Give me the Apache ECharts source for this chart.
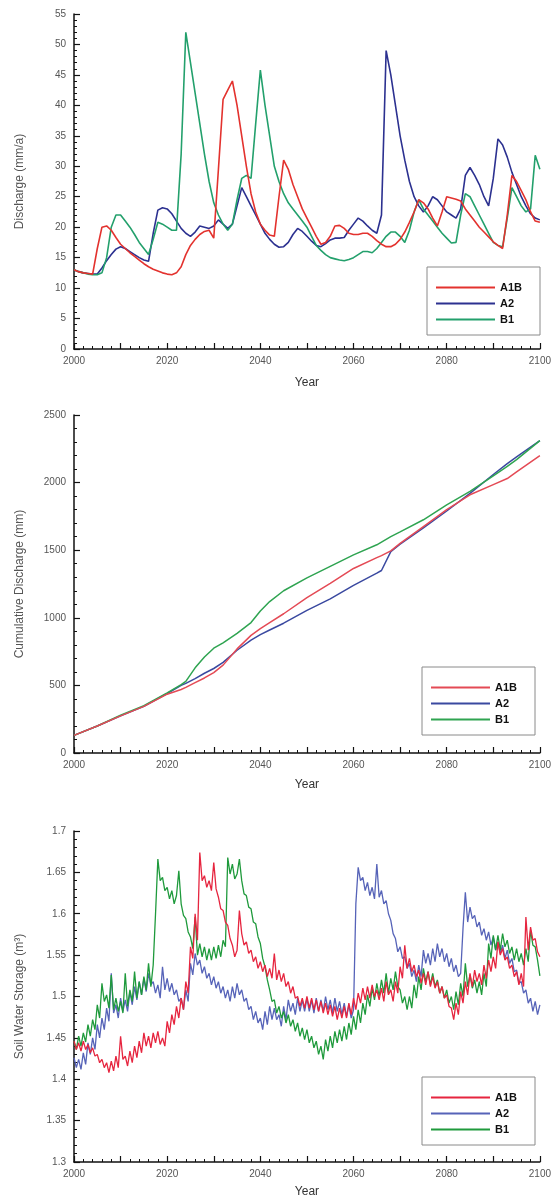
<!DOCTYPE html>
<html><head><meta charset="utf-8">
<script src="https://cdn.jsdelivr.net/npm/echarts@6/dist/echarts.min.js"></script>
<style>html,body{margin:0;padding:0;background:#fff}#c{width:554px;height:1201px}</style>
</head><body><div id="c"></div>
<script>
// ---------- Panel 1: annual discharge (mm/a), 2000..2100 ----------
const years1 = Array.from({length:101}, (_, i) => 2000 + i);
const disA1B = [
13.0,12.7,12.5,12.4,12.3,16.5,20.0,20.2,19.5,18.3,
17.2,16.5,15.8,15.2,14.6,14.0,13.5,13.1,12.8,12.5,
12.3,12.2,12.5,13.5,15.5,17.0,18.0,18.8,19.3,19.5,
18.2,29.5,41.0,42.5,44.0,40.0,35.0,30.0,25.5,22.5,
20.5,19.5,18.7,18.5,25.0,31.0,29.5,27.0,25.0,23.0,
21.5,20.0,18.5,17.2,17.5,18.5,20.2,20.3,19.8,19.0,
18.8,18.8,19.0,19.0,18.5,17.8,17.2,16.8,16.8,17.2,
18.0,19.2,20.8,22.5,24.5,24.0,23.0,21.5,20.2,22.5,
25.0,24.8,24.6,24.3,23.0,22.0,21.0,20.0,19.2,18.4,
17.6,17.0,16.5,22.0,28.5,27.5,26.0,24.5,22.5,21.0,
20.8];
const disA2 = [
13.0,12.7,12.5,12.4,12.3,12.3,13.3,14.5,15.5,16.4,
16.8,16.5,16.0,15.5,15.0,14.6,14.4,19.0,22.8,23.2,
23.0,22.2,21.0,19.8,19.0,18.5,19.2,20.2,20.0,19.8,
20.2,21.2,20.5,19.8,20.5,23.5,26.5,25.0,23.5,22.0,
20.5,19.0,18.0,17.2,16.7,16.8,17.5,18.8,19.8,19.3,
18.5,17.7,17.0,16.8,17.3,17.9,18.2,18.2,18.3,19.5,
20.5,21.5,21.0,20.2,19.5,19.0,22.0,49.0,45.0,40.0,
35.0,31.0,27.5,25.0,23.5,22.5,23.5,25.0,24.5,23.5,
22.5,22.0,21.5,23.0,28.5,29.8,28.5,27.0,25.0,23.5,
28.0,34.5,33.5,31.5,29.0,27.0,25.0,23.5,22.2,21.5,
21.2];
const disB1 = [
13.0,12.7,12.5,12.3,12.2,12.2,12.5,15.0,20.0,22.0,
22.0,21.0,20.0,18.8,17.5,16.5,15.5,18.0,20.8,20.5,
20.0,19.5,19.5,32.0,52.0,47.0,42.0,37.0,32.0,27.5,
24.0,22.0,20.5,19.5,20.5,24.5,28.0,28.5,28.0,37.0,
45.8,40.0,35.0,30.0,27.5,25.5,24.0,23.0,22.0,21.0,
20.0,18.5,17.0,16.2,15.5,15.0,14.8,14.6,14.5,14.7,
15.0,15.5,16.0,16.0,15.8,16.5,17.5,18.5,19.2,19.2,
18.5,17.5,19.5,22.5,24.5,23.0,22.0,21.0,20.0,19.0,
18.2,17.4,17.5,22.0,25.5,25.0,23.5,22.0,20.5,19.0,
17.5,17.0,16.8,21.5,26.5,25.0,23.5,22.5,23.0,31.8,
29.5];

// ---------- Panel 2: cumulative discharge (mm) ----------
const cumYears = [2000,2005,2010,2015,2020,2023,2024,2026,2028,2030,2032,2035,2038,2040,2042,2045,2050,2055,2060,2065,2066,2068,2070,2075,2080,2085,2090,2093,2095,2100];
const cumA1B = [130,200,275,345,435,470,485,520,555,595,650,770,870,920,965,1030,1150,1255,1365,1445,1460,1495,1550,1675,1800,1910,1985,2030,2080,2200];
const cumA2  = [130,200,275,345,440,500,515,550,590,625,670,760,835,875,910,960,1055,1140,1240,1330,1350,1490,1545,1665,1790,1920,2060,2140,2190,2310];
const cumB1  = [130,200,280,350,445,505,530,630,710,775,815,885,965,1050,1120,1200,1295,1380,1465,1540,1560,1600,1635,1725,1835,1935,2050,2120,2170,2310];

// ---------- Panel 3: soil water storage (m³), half-yearly 2000..2100 ----------
const years3 = Array.from({length:201}, (_, i) => 2000 + i * 0.5);
const swsA1B = [
1.446,1.436,1.444,1.434,1.446,1.436,1.442,1.432,1.438,1.428,1.430,1.420,1.424,1.414,1.420,1.408,1.422,1.410,1.428,1.414,
1.452,1.424,1.428,1.416,1.434,1.420,1.440,1.426,1.446,1.432,1.456,1.440,1.452,1.438,1.456,1.444,1.458,1.442,1.450,1.440,
1.470,1.456,1.478,1.466,1.488,1.474,1.498,1.484,1.518,1.504,1.560,1.546,1.600,1.568,1.674,1.640,1.646,1.632,1.640,1.628,
1.662,1.630,1.620,1.606,1.604,1.590,1.586,1.570,1.562,1.548,1.556,1.604,1.576,1.562,1.566,1.552,1.556,1.542,1.548,1.534,
1.542,1.530,1.538,1.524,1.534,1.522,1.552,1.520,1.532,1.518,1.528,1.512,1.518,1.504,1.512,1.498,1.500,1.488,1.498,1.486,
1.500,1.486,1.498,1.484,1.496,1.482,1.494,1.480,1.492,1.478,1.490,1.476,1.488,1.472,1.486,1.474,1.488,1.474,1.492,1.478,
1.498,1.484,1.504,1.492,1.510,1.496,1.512,1.498,1.514,1.500,1.508,1.496,1.510,1.494,1.518,1.502,1.508,1.494,1.518,1.504,
1.536,1.522,1.562,1.534,1.546,1.530,1.538,1.524,1.532,1.516,1.528,1.514,1.530,1.512,1.524,1.510,1.518,1.504,1.512,1.498,
1.502,1.488,1.486,1.472,1.492,1.478,1.506,1.492,1.518,1.502,1.528,1.512,1.532,1.518,1.528,1.514,1.538,1.522,1.544,1.530,
1.548,1.534,1.566,1.550,1.558,1.544,1.548,1.534,1.538,1.524,1.530,1.514,1.528,1.512,1.596,1.556,1.584,1.568,1.570,1.554,
1.548];
const swsA2 = [
1.426,1.414,1.424,1.412,1.432,1.418,1.444,1.430,1.450,1.436,1.466,1.450,1.474,1.460,1.486,1.470,1.528,1.480,1.490,1.474,
1.498,1.482,1.496,1.482,1.506,1.490,1.512,1.496,1.518,1.502,1.522,1.506,1.528,1.514,1.518,1.504,1.514,1.498,1.536,1.508,
1.522,1.506,1.516,1.502,1.508,1.494,1.498,1.484,1.508,1.494,1.540,1.526,1.552,1.538,1.544,1.528,1.536,1.522,1.528,1.514,
1.524,1.510,1.518,1.504,1.512,1.498,1.508,1.494,1.512,1.498,1.516,1.502,1.508,1.494,1.498,1.484,1.488,1.472,1.482,1.468,
1.474,1.460,1.482,1.466,1.488,1.472,1.486,1.472,1.478,1.464,1.488,1.472,1.496,1.482,1.492,1.478,1.498,1.482,1.496,1.482,
1.498,1.482,1.496,1.480,1.498,1.482,1.496,1.482,1.500,1.484,1.496,1.480,1.498,1.482,1.494,1.478,1.492,1.476,1.490,1.474,
1.484,1.612,1.656,1.640,1.644,1.628,1.638,1.622,1.632,1.618,1.660,1.620,1.628,1.612,1.616,1.600,1.592,1.576,1.570,1.554,
1.560,1.546,1.548,1.534,1.540,1.524,1.532,1.518,1.538,1.524,1.556,1.540,1.552,1.538,1.558,1.542,1.564,1.548,1.558,1.542,
1.552,1.536,1.546,1.530,1.538,1.524,1.528,1.582,1.626,1.590,1.608,1.594,1.598,1.584,1.590,1.574,1.582,1.568,1.578,1.562,
1.572,1.556,1.566,1.552,1.562,1.546,1.556,1.540,1.546,1.530,1.532,1.516,1.518,1.504,1.508,1.492,1.498,1.482,1.494,1.478,
1.490];
const swsB1 = [
1.446,1.436,1.452,1.440,1.456,1.445,1.466,1.452,1.472,1.460,1.490,1.474,1.516,1.494,1.502,1.486,1.526,1.484,1.498,1.482,
1.494,1.480,1.528,1.488,1.508,1.494,1.530,1.498,1.518,1.502,1.524,1.508,1.540,1.512,1.538,1.600,1.666,1.640,1.644,1.628,
1.632,1.618,1.628,1.612,1.622,1.652,1.612,1.598,1.594,1.578,1.572,1.558,1.596,1.550,1.564,1.548,1.560,1.544,1.558,1.544,
1.560,1.546,1.562,1.548,1.568,1.560,1.668,1.648,1.660,1.642,1.648,1.666,1.640,1.624,1.622,1.608,1.606,1.590,1.588,1.572,
1.564,1.546,1.536,1.520,1.508,1.494,1.496,1.480,1.488,1.474,1.482,1.468,1.478,1.464,1.472,1.458,1.468,1.452,1.462,1.448,
1.460,1.444,1.452,1.438,1.446,1.430,1.440,1.424,1.448,1.434,1.452,1.438,1.458,1.444,1.460,1.446,1.464,1.448,1.468,1.454,
1.476,1.460,1.484,1.468,1.492,1.478,1.502,1.488,1.510,1.496,1.516,1.500,1.520,1.504,1.528,1.504,1.522,1.508,1.530,1.512,
1.508,1.492,1.500,1.484,1.500,1.486,1.514,1.498,1.524,1.508,1.534,1.518,1.530,1.514,1.528,1.512,1.520,1.504,1.512,1.498,
1.508,1.492,1.500,1.484,1.506,1.490,1.516,1.500,1.540,1.512,1.526,1.510,1.520,1.504,1.518,1.502,1.528,1.512,1.564,1.546,
1.574,1.556,1.574,1.556,1.576,1.560,1.568,1.552,1.560,1.544,1.558,1.542,1.552,1.538,1.558,1.542,1.580,1.562,1.560,1.544,
1.525];

const seriesNames = ['A1B', 'A2', 'B1'];
const xTickLabels = [2000, 2020, 2040, 2060, 2080, 2100];

// ---------- styles ----------
const panelColors = [
  ['#e3322e', '#2c3190', '#23a06c'],
  ['#e44a55', '#3a49a0', '#2fa451'],
  ['#e6253f', '#5663b8', '#1f9a3c']
];
const lineWidths = [1.6, 1.5, 1.3];
const FONT = '"Liberation Sans", Arial, sans-serif';

function pairs(xs, ys) { return xs.map((x, i) => [x, ys[i]]); }

const grids = [
  {left: 74, right: 12, top: 14, height: 335},
  {left: 74, right: 12, top: 415, height: 338},
  {left: 74, right: 12, top: 831, height: 331}
];
const yDefs = [
  {min: 0, max: 55, interval: 5, name: 'Discharge (mm/a)'},
  {min: 0, max: 2500, interval: 500, name: 'Cumulative Discharge (mm)'},
  {min: 1.3, max: 1.7, interval: 0.05, name: 'Soil Water Storage (m³)'}
];
const yearGaps = [28, 26, 24];
const legendPos = [
  {left: 427, top: 267},
  {left: 422, top: 667},
  {left: 422, top: 1077}
];

const axisLine = {show: true, onZero: false, lineStyle: {color: '#111', width: 1.5}};

const xAxis = grids.map((g, k) => ({
  type: 'value', gridIndex: k, min: 2000, max: 2100, interval: 10,
  name: 'Year', nameLocation: 'middle', nameGap: yearGaps[k],
  nameTextStyle: {color: '#333', fontSize: 12, fontFamily: FONT},
  axisLine: axisLine,
  axisTick: {show: true, inside: true, length: 6, lineStyle: {color: '#111', width: 1.2}},
  minorTick: {show: true, splitNumber: 5, length: 3, lineStyle: {color: '#111', width: 1}},
  splitLine: {show: false},
  axisLabel: {color: '#555', fontSize: 10, fontFamily: FONT, margin: 7,
    formatter: v => (xTickLabels.indexOf(v) >= 0 ? String(v) : '')}
}));

const yAxis = yDefs.map((d, k) => ({
  type: 'value', gridIndex: k, min: d.min, max: d.max, interval: d.interval,
  name: d.name, nameLocation: 'middle', nameGap: 48,
  nameTextStyle: {color: '#555', fontSize: 12, fontFamily: FONT},
  axisLine: axisLine,
  axisTick: {show: true, inside: true, length: 6, lineStyle: {color: '#111', width: 1.2}},
  minorTick: {show: true, splitNumber: 5, length: 3, lineStyle: {color: '#111', width: 1}},
  splitLine: {show: false},
  axisLabel: {color: '#555', fontSize: 10, fontFamily: FONT, margin: 8,
    formatter: v => String(parseFloat(v.toFixed(2)))}
}));

const panelData = [
  [pairs(years1, disA1B), pairs(years1, disA2), pairs(years1, disB1)],
  [pairs(cumYears, cumA1B), pairs(cumYears, cumA2), pairs(cumYears, cumB1)],
  [pairs(years3, swsA1B), pairs(years3, swsA2), pairs(years3, swsB1)]
];

const series = [];
panelData.forEach((arr, k) => {
  arr.forEach((d, j) => {
    series.push({
      type: 'line', name: seriesNames[j], xAxisIndex: k, yAxisIndex: k,
      data: d, showSymbol: false, symbol: 'none',
      lineStyle: {color: panelColors[k][j], width: lineWidths[k]},
      itemStyle: {color: panelColors[k][j]},
      z: j === 0 ? 3 : 2
    });
  });
});

const legend = legendPos.map((p, k) => ({
  orient: 'vertical', left: p.left, top: p.top,
  selectedMode: false,
  icon: 'rect', itemWidth: 59, itemHeight: 2, itemGap: 3,
  padding: [14, 18, 9, 9],
  borderColor: '#8a8a8a', borderWidth: 1, borderRadius: 0,
  textStyle: {color: '#111', fontSize: 11, fontWeight: 'bold', fontFamily: FONT, lineHeight: 13},
  data: seriesNames.map((n, j) => ({name: n, icon: 'rect', itemStyle: {color: panelColors[k][j]}}))
}));

const chart = echarts.init(document.getElementById('c'), null, {renderer: 'canvas'});
chart.setOption({
  animation: false,
  backgroundColor: '#fff',
  grid: grids,
  xAxis: xAxis,
  yAxis: yAxis,
  legend: legend,
  series: series
});
</script>
</body></html>
